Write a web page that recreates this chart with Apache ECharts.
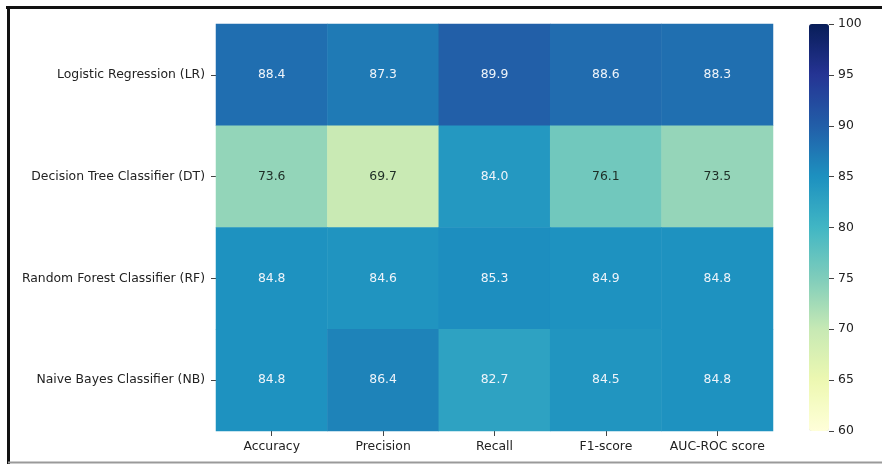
<!DOCTYPE html>
<html>
<head>
<meta charset="utf-8">
<script src="https://cdn.jsdelivr.net/npm/echarts@6/dist/echarts.min.js"></script>
<style>html,body{margin:0;padding:0;background:#fff;}#c{width:882px;height:464px;}</style>
</head>
<body>
<div id="c"></div>
<script>
var models = ['Logistic Regression (LR)', 'Decision Tree Classifier (DT)', 'Random Forest Classifier (RF)', 'Naive Bayes Classifier (NB)'];
var metrics = ['Accuracy', 'Precision', 'Recall', 'F1-score', 'AUC-ROC score'];
var lrValues = [88.4, 87.3, 89.9, 88.6, 88.3];
var dtValues = [73.6, 69.7, 84.0, 76.1, 73.5];
var rfValues = [84.8, 84.6, 85.3, 84.9, 84.8];
var nbValues = [84.8, 86.4, 82.7, 84.5, 84.8];
var colorbarTicks = [60, 65, 70, 75, 80, 85, 90, 95, 100];
var ylgnbu = ['#ffffd9', '#edf8b1', '#c7e9b4', '#7fcdbb', '#41b6c4', '#1d91c0', '#225ea8', '#253494', '#081d58'];

var rows = [lrValues, dtValues, rfValues, nbValues];
var data = [];
rows.forEach(function (vals, r) {
  vals.forEach(function (v, c) {
    var dark = v < 80;
    data.push({value: [c, r, v], label: {color: dark ? '#1e2e26' : '#eef4fa'}});
  });
});

var font = 'DejaVu Sans';
var fs = 12.4;
var chart = echarts.init(document.getElementById('c'), null, {renderer: 'canvas'});
chart.setOption({
  animation: false,
  backgroundColor: '#ffffff',
  grid: [
    {left: 216, top: 24, width: 557, height: 407},
    {left: 809, top: 24, width: 20, height: 407}
  ],
  xAxis: [
    {
      type: 'category', data: metrics, gridIndex: 0, position: 'bottom',
      axisLine: {show: false},
      axisTick: {show: true, alignWithLabel: true, length: 5, lineStyle: {color: '#444'}},
      axisLabel: {fontFamily: font, fontSize: fs, color: '#222', margin: 10, interval: 0},
      splitLine: {show: false}
    },
    {type: 'value', gridIndex: 1, min: 0, max: 1, show: false}
  ],
  yAxis: [
    {
      type: 'category', data: models, gridIndex: 0, inverse: true,
      axisLine: {show: false},
      axisTick: {show: true, alignWithLabel: true, length: 5, lineStyle: {color: '#444'}},
      axisLabel: {fontFamily: font, fontSize: fs, color: '#222', margin: 11, interval: 0},
      splitLine: {show: false}
    },
    {
      type: 'value', gridIndex: 1, position: 'right', z: 10,
      min: colorbarTicks[0], max: colorbarTicks[colorbarTicks.length - 1], interval: 5,
      axisLine: {show: false, onZero: false},
      axisTick: {show: true, inside: false, length: 5, lineStyle: {color: '#444'}},
      axisLabel: {fontFamily: font, fontSize: fs, color: '#222', margin: 9},
      splitLine: {show: false}
    }
  ],
  visualMap: {
    type: 'continuous', min: 60, max: 100, calculable: false, seriesIndex: 0,
    orient: 'vertical', left: 809, top: 24, itemWidth: 20, itemHeight: 407,
    padding: 0, showLabel: false, hoverLink: false, z: 1,
    inRange: {color: ylgnbu},
    textStyle: {color: 'rgba(0,0,0,0)', fontSize: 1}
  },
  series: [{
    type: 'heatmap', xAxisIndex: 0, yAxisIndex: 0, data: data,
    itemStyle: {borderWidth: 0},
    label: {
      show: true, fontFamily: font, fontSize: fs,
      formatter: function (p) { return p.value[2].toFixed(1); }
    },
    emphasis: {disabled: true}
  }],
  graphic: [
    {type: 'line', shape: {x1: 6, y1: 7.5, x2: 882, y2: 7.5}, style: {stroke: '#111', lineWidth: 3}},
    {type: 'line', shape: {x1: 8.5, y1: 6, x2: 8.5, y2: 464}, style: {stroke: '#111', lineWidth: 3}},
    {type: 'line', shape: {x1: 8, y1: 462.5, x2: 882, y2: 462.5}, style: {stroke: '#9a9a9a', lineWidth: 2}}
  ]
});
</script>
</body>
</html>
